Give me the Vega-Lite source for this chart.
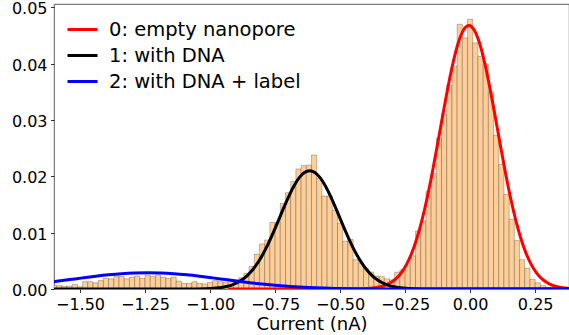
{
  "$schema": "https://vega.github.io/schema/vega-lite/v6.json",
  "width": 515,
  "height": 285,
  "autosize": {"type": "none"},
  "padding": {"left": 54, "top": 4, "right": 0, "bottom": 46},
  "config": {
    "font": "DejaVu Sans",
    "view": {"stroke": "#333", "strokeWidth": 0.8},
    "axis": {"labelFont": "DejaVu Sans", "labelFontSize": 16, "labelColor": "#000", "titleFont": "DejaVu Sans", "titleFontSize": 18, "titleFontWeight": "normal", "titleColor": "#000", "tickColor": "#000", "tickSize": 3.5, "tickWidth": 0.8, "domain": false, "grid": false, "labelPadding": 3.5}
  },
  "datasets": {
    "hist": [
      {"bin_start": -1.61, "bin_end": -1.59, "density": 0.0006},
      {"bin_start": -1.59, "bin_end": -1.57, "density": 0.0006},
      {"bin_start": -1.57, "bin_end": -1.55, "density": 0.0005},
      {"bin_start": -1.55, "bin_end": -1.53, "density": 0.0005},
      {"bin_start": -1.53, "bin_end": -1.51, "density": 0.0008},
      {"bin_start": -1.51, "bin_end": -1.49, "density": 0.0004},
      {"bin_start": -1.49, "bin_end": -1.47, "density": 0.0013},
      {"bin_start": -1.47, "bin_end": -1.45, "density": 0.0013},
      {"bin_start": -1.45, "bin_end": -1.43, "density": 0.0011},
      {"bin_start": -1.43, "bin_end": -1.41, "density": 0.0015},
      {"bin_start": -1.41, "bin_end": -1.39, "density": 0.0019},
      {"bin_start": -1.39, "bin_end": -1.37, "density": 0.0018},
      {"bin_start": -1.37, "bin_end": -1.35, "density": 0.0022},
      {"bin_start": -1.35, "bin_end": -1.33, "density": 0.0022},
      {"bin_start": -1.33, "bin_end": -1.31, "density": 0.0018},
      {"bin_start": -1.31, "bin_end": -1.29, "density": 0.0021},
      {"bin_start": -1.29, "bin_end": -1.27, "density": 0.0023},
      {"bin_start": -1.27, "bin_end": -1.25, "density": 0.0019},
      {"bin_start": -1.25, "bin_end": -1.23, "density": 0.0025},
      {"bin_start": -1.23, "bin_end": -1.21, "density": 0.0022},
      {"bin_start": -1.21, "bin_end": -1.19, "density": 0.0025},
      {"bin_start": -1.19, "bin_end": -1.17, "density": 0.0021},
      {"bin_start": -1.17, "bin_end": -1.15, "density": 0.0019},
      {"bin_start": -1.15, "bin_end": -1.13, "density": 0.0021},
      {"bin_start": -1.13, "bin_end": -1.11, "density": 0.0014},
      {"bin_start": -1.11, "bin_end": -1.09, "density": 0.001},
      {"bin_start": -1.09, "bin_end": -1.07, "density": 0.001},
      {"bin_start": -1.07, "bin_end": -1.05, "density": 0.0013},
      {"bin_start": -1.05, "bin_end": -1.03, "density": 0.001},
      {"bin_start": -1.03, "bin_end": -1.01, "density": 0.0009},
      {"bin_start": -1.01, "bin_end": -0.99, "density": 0.0012},
      {"bin_start": -0.99, "bin_end": -0.97, "density": 0.0015},
      {"bin_start": -0.97, "bin_end": -0.95, "density": 0.0013},
      {"bin_start": -0.95, "bin_end": -0.93, "density": 0.0012},
      {"bin_start": -0.93, "bin_end": -0.91, "density": 0.0013},
      {"bin_start": -0.91, "bin_end": -0.89, "density": 0.0015},
      {"bin_start": -0.89, "bin_end": -0.87, "density": 0.002},
      {"bin_start": -0.87, "bin_end": -0.85, "density": 0.0028},
      {"bin_start": -0.85, "bin_end": -0.83, "density": 0.004},
      {"bin_start": -0.83, "bin_end": -0.81, "density": 0.0062},
      {"bin_start": -0.81, "bin_end": -0.79, "density": 0.008},
      {"bin_start": -0.79, "bin_end": -0.77, "density": 0.0087},
      {"bin_start": -0.77, "bin_end": -0.75, "density": 0.0118},
      {"bin_start": -0.75, "bin_end": -0.73, "density": 0.0118},
      {"bin_start": -0.73, "bin_end": -0.71, "density": 0.0152},
      {"bin_start": -0.71, "bin_end": -0.69, "density": 0.0171},
      {"bin_start": -0.69, "bin_end": -0.67, "density": 0.0191},
      {"bin_start": -0.67, "bin_end": -0.65, "density": 0.0213},
      {"bin_start": -0.65, "bin_end": -0.63, "density": 0.0219},
      {"bin_start": -0.63, "bin_end": -0.61, "density": 0.022},
      {"bin_start": -0.61, "bin_end": -0.59, "density": 0.0238},
      {"bin_start": -0.59, "bin_end": -0.57, "density": 0.0197},
      {"bin_start": -0.57, "bin_end": -0.55, "density": 0.0165},
      {"bin_start": -0.55, "bin_end": -0.53, "density": 0.0165},
      {"bin_start": -0.53, "bin_end": -0.51, "density": 0.014},
      {"bin_start": -0.51, "bin_end": -0.49, "density": 0.0117},
      {"bin_start": -0.49, "bin_end": -0.47, "density": 0.0085},
      {"bin_start": -0.47, "bin_end": -0.45, "density": 0.0088},
      {"bin_start": -0.45, "bin_end": -0.43, "density": 0.0052},
      {"bin_start": -0.43, "bin_end": -0.41, "density": 0.0046},
      {"bin_start": -0.41, "bin_end": -0.39, "density": 0.0036},
      {"bin_start": -0.39, "bin_end": -0.37, "density": 0.003},
      {"bin_start": -0.37, "bin_end": -0.35, "density": 0.0023},
      {"bin_start": -0.35, "bin_end": -0.33, "density": 0.0022},
      {"bin_start": -0.33, "bin_end": -0.31, "density": 0.0018},
      {"bin_start": -0.31, "bin_end": -0.29, "density": 0.0016},
      {"bin_start": -0.29, "bin_end": -0.27, "density": 0.003},
      {"bin_start": -0.27, "bin_end": -0.25, "density": 0.0034},
      {"bin_start": -0.25, "bin_end": -0.23, "density": 0.0043},
      {"bin_start": -0.23, "bin_end": -0.21, "density": 0.0059},
      {"bin_start": -0.21, "bin_end": -0.19, "density": 0.0103},
      {"bin_start": -0.19, "bin_end": -0.17, "density": 0.0121},
      {"bin_start": -0.17, "bin_end": -0.15, "density": 0.0173},
      {"bin_start": -0.15, "bin_end": -0.13, "density": 0.0205},
      {"bin_start": -0.13, "bin_end": -0.11, "density": 0.0268},
      {"bin_start": -0.11, "bin_end": -0.09, "density": 0.031},
      {"bin_start": -0.09, "bin_end": -0.07, "density": 0.0362},
      {"bin_start": -0.07, "bin_end": -0.05, "density": 0.0396},
      {"bin_start": -0.05, "bin_end": -0.03, "density": 0.047},
      {"bin_start": -0.03, "bin_end": -0.01, "density": 0.0446},
      {"bin_start": -0.01, "bin_end": 0.01, "density": 0.0479},
      {"bin_start": 0.01, "bin_end": 0.03, "density": 0.0437},
      {"bin_start": 0.03, "bin_end": 0.05, "density": 0.0413},
      {"bin_start": 0.05, "bin_end": 0.07, "density": 0.04},
      {"bin_start": 0.07, "bin_end": 0.09, "density": 0.035},
      {"bin_start": 0.09, "bin_end": 0.11, "density": 0.0273},
      {"bin_start": 0.11, "bin_end": 0.13, "density": 0.0221},
      {"bin_start": 0.13, "bin_end": 0.15, "density": 0.0168},
      {"bin_start": 0.15, "bin_end": 0.17, "density": 0.0124},
      {"bin_start": 0.17, "bin_end": 0.19, "density": 0.0086},
      {"bin_start": 0.19, "bin_end": 0.21, "density": 0.0052},
      {"bin_start": 0.21, "bin_end": 0.23, "density": 0.0037},
      {"bin_start": 0.23, "bin_end": 0.25, "density": 0.0017},
      {"bin_start": 0.25, "bin_end": 0.27, "density": 0.0011},
      {"bin_start": 0.27, "bin_end": 0.29, "density": 0.0006},
      {"bin_start": 0.29, "bin_end": 0.31, "density": 0.0003},
      {"bin_start": 0.31, "bin_end": 0.33, "density": 0.0002},
      {"bin_start": 0.33, "bin_end": 0.35, "density": 0.0001},
      {"bin_start": 0.35, "bin_end": 0.37, "density": 0.0001}
    ],
    "curves": [
      {"series": "0: empty nanopore", "current": -0.93, "density": 0},
      {"series": "0: empty nanopore", "current": -0.505, "density": 0},
      {"series": "0: empty nanopore", "current": -0.445, "density": 0.000016},
      {"series": "0: empty nanopore", "current": -0.405, "density": 0.00006},
      {"series": "0: empty nanopore", "current": -0.385, "density": 0.00012},
      {"series": "0: empty nanopore", "current": -0.365, "density": 0.00022},
      {"series": "0: empty nanopore", "current": -0.345, "density": 0.00039},
      {"series": "0: empty nanopore", "current": -0.325, "density": 0.00068},
      {"series": "0: empty nanopore", "current": -0.305, "density": 0.00114},
      {"series": "0: empty nanopore", "current": -0.285, "density": 0.00183},
      {"series": "0: empty nanopore", "current": -0.265, "density": 0.00287},
      {"series": "0: empty nanopore", "current": -0.245, "density": 0.00433},
      {"series": "0: empty nanopore", "current": -0.225, "density": 0.00633},
      {"series": "0: empty nanopore", "current": -0.205, "density": 0.00896},
      {"series": "0: empty nanopore", "current": -0.185, "density": 0.01227},
      {"series": "0: empty nanopore", "current": -0.165, "density": 0.01625},
      {"series": "0: empty nanopore", "current": -0.145, "density": 0.02082},
      {"series": "0: empty nanopore", "current": -0.125, "density": 0.02581},
      {"series": "0: empty nanopore", "current": -0.105, "density": 0.03096},
      {"series": "0: empty nanopore", "current": -0.085, "density": 0.03592},
      {"series": "0: empty nanopore", "current": -0.065, "density": 0.04033},
      {"series": "0: empty nanopore", "current": -0.045, "density": 0.0438},
      {"series": "0: empty nanopore", "current": -0.025, "density": 0.04603},
      {"series": "0: empty nanopore", "current": -0.005, "density": 0.0468},
      {"series": "0: empty nanopore", "current": 0.015, "density": 0.04603},
      {"series": "0: empty nanopore", "current": 0.035, "density": 0.0438},
      {"series": "0: empty nanopore", "current": 0.055, "density": 0.04033},
      {"series": "0: empty nanopore", "current": 0.075, "density": 0.03592},
      {"series": "0: empty nanopore", "current": 0.095, "density": 0.03096},
      {"series": "0: empty nanopore", "current": 0.115, "density": 0.02581},
      {"series": "0: empty nanopore", "current": 0.135, "density": 0.02082},
      {"series": "0: empty nanopore", "current": 0.155, "density": 0.01625},
      {"series": "0: empty nanopore", "current": 0.175, "density": 0.01227},
      {"series": "0: empty nanopore", "current": 0.195, "density": 0.00896},
      {"series": "0: empty nanopore", "current": 0.215, "density": 0.00633},
      {"series": "0: empty nanopore", "current": 0.235, "density": 0.00433},
      {"series": "0: empty nanopore", "current": 0.255, "density": 0.00287},
      {"series": "0: empty nanopore", "current": 0.275, "density": 0.00183},
      {"series": "0: empty nanopore", "current": 0.295, "density": 0.00114},
      {"series": "0: empty nanopore", "current": 0.315, "density": 0.00068},
      {"series": "0: empty nanopore", "current": 0.335, "density": 0.00039},
      {"series": "0: empty nanopore", "current": 0.355, "density": 0.00022},
      {"series": "0: empty nanopore", "current": 0.375, "density": 0.00012},
      {"series": "0: empty nanopore", "current": 0.395, "density": 0.00006},
      {"series": "1: with DNA", "current": -1.6, "density": 0},
      {"series": "1: with DNA", "current": -1.097, "density": 0},
      {"series": "1: with DNA", "current": -1.057, "density": 0.000014},
      {"series": "1: with DNA", "current": -1.017, "density": 0.00005},
      {"series": "1: with DNA", "current": -0.997, "density": 0.00009},
      {"series": "1: with DNA", "current": -0.977, "density": 0.00016},
      {"series": "1: with DNA", "current": -0.957, "density": 0.00027},
      {"series": "1: with DNA", "current": -0.937, "density": 0.00044},
      {"series": "1: with DNA", "current": -0.917, "density": 0.0007},
      {"series": "1: with DNA", "current": -0.897, "density": 0.00108},
      {"series": "1: with DNA", "current": -0.877, "density": 0.00163},
      {"series": "1: with DNA", "current": -0.857, "density": 0.00238},
      {"series": "1: with DNA", "current": -0.837, "density": 0.00337},
      {"series": "1: with DNA", "current": -0.817, "density": 0.00463},
      {"series": "1: with DNA", "current": -0.797, "density": 0.00617},
      {"series": "1: with DNA", "current": -0.777, "density": 0.00798},
      {"series": "1: with DNA", "current": -0.757, "density": 0.01001},
      {"series": "1: with DNA", "current": -0.737, "density": 0.01218},
      {"series": "1: with DNA", "current": -0.717, "density": 0.01439},
      {"series": "1: with DNA", "current": -0.697, "density": 0.01649},
      {"series": "1: with DNA", "current": -0.677, "density": 0.01833},
      {"series": "1: with DNA", "current": -0.657, "density": 0.01977},
      {"series": "1: with DNA", "current": -0.637, "density": 0.02068},
      {"series": "1: with DNA", "current": -0.617, "density": 0.021},
      {"series": "1: with DNA", "current": -0.597, "density": 0.02068},
      {"series": "1: with DNA", "current": -0.577, "density": 0.01977},
      {"series": "1: with DNA", "current": -0.557, "density": 0.01833},
      {"series": "1: with DNA", "current": -0.537, "density": 0.01649},
      {"series": "1: with DNA", "current": -0.517, "density": 0.01439},
      {"series": "1: with DNA", "current": -0.497, "density": 0.01218},
      {"series": "1: with DNA", "current": -0.477, "density": 0.01001},
      {"series": "1: with DNA", "current": -0.457, "density": 0.00798},
      {"series": "1: with DNA", "current": -0.437, "density": 0.00617},
      {"series": "1: with DNA", "current": -0.417, "density": 0.00463},
      {"series": "1: with DNA", "current": -0.397, "density": 0.00337},
      {"series": "1: with DNA", "current": -0.377, "density": 0.00238},
      {"series": "1: with DNA", "current": -0.357, "density": 0.00163},
      {"series": "1: with DNA", "current": -0.337, "density": 0.00108},
      {"series": "1: with DNA", "current": -0.317, "density": 0.0007},
      {"series": "1: with DNA", "current": -0.297, "density": 0.00044},
      {"series": "1: with DNA", "current": -0.277, "density": 0.00027},
      {"series": "1: with DNA", "current": -0.257, "density": 0.00016},
      {"series": "1: with DNA", "current": -0.237, "density": 0.00009},
      {"series": "1: with DNA", "current": -0.217, "density": 0.00005},
      {"series": "1: with DNA", "current": -0.177, "density": 0.000014},
      {"series": "1: with DNA", "current": -0.137, "density": 0},
      {"series": "1: with DNA", "current": 0.38, "density": 0},
      {"series": "2: with DNA + label", "current": -1.6, "density": 0.001306},
      {"series": "2: with DNA + label", "current": -1.59, "density": 0.001364},
      {"series": "2: with DNA + label", "current": -1.54, "density": 0.001667},
      {"series": "2: with DNA + label", "current": -1.49, "density": 0.001974},
      {"series": "2: with DNA + label", "current": -1.44, "density": 0.002267},
      {"series": "2: with DNA + label", "current": -1.39, "density": 0.002525},
      {"series": "2: with DNA + label", "current": -1.34, "density": 0.002727},
      {"series": "2: with DNA + label", "current": -1.29, "density": 0.002856},
      {"series": "2: with DNA + label", "current": -1.24, "density": 0.0029},
      {"series": "2: with DNA + label", "current": -1.19, "density": 0.002856},
      {"series": "2: with DNA + label", "current": -1.14, "density": 0.002727},
      {"series": "2: with DNA + label", "current": -1.09, "density": 0.002525},
      {"series": "2: with DNA + label", "current": -1.04, "density": 0.002267},
      {"series": "2: with DNA + label", "current": -0.99, "density": 0.001974},
      {"series": "2: with DNA + label", "current": -0.94, "density": 0.001667},
      {"series": "2: with DNA + label", "current": -0.89, "density": 0.001364},
      {"series": "2: with DNA + label", "current": -0.84, "density": 0.001083},
      {"series": "2: with DNA + label", "current": -0.79, "density": 0.000834},
      {"series": "2: with DNA + label", "current": -0.74, "density": 0.000622},
      {"series": "2: with DNA + label", "current": -0.69, "density": 0.00045},
      {"series": "2: with DNA + label", "current": -0.64, "density": 0.000316},
      {"series": "2: with DNA + label", "current": -0.54, "density": 0.000142},
      {"series": "2: with DNA + label", "current": -0.44, "density": 0.000056},
      {"series": "2: with DNA + label", "current": -0.34, "density": 0.00002},
      {"series": "2: with DNA + label", "current": -0.24, "density": 0.000006},
      {"series": "2: with DNA + label", "current": -0.04, "density": 0},
      {"series": "2: with DNA + label", "current": 0.38, "density": 0}
    ]
  },
  "layer": [
    {
      "data": {"name": "hist"},
      "mark": {"type": "rect", "fill": "#FECE99", "stroke": "#000", "strokeOpacity": 0.3, "strokeWidth": 0.8, "clip": true},
      "encoding": {
        "x": {"field": "bin_start", "type": "quantitative",
              "scale": {"domain": [-1.6, 0.38], "nice": false, "zero": false},
              "axis": {"title": "Current (nA)", "values": [-1.5, -1.25, -1.0, -0.75, -0.5, -0.25, 0, 0.25], "format": ".2f", "titlePadding": 3}},
        "x2": {"field": "bin_end"},
        "y": {"field": "density", "type": "quantitative",
              "scale": {"domain": [0, 0.0506], "nice": false},
              "axis": {"title": null, "values": [0, 0.01, 0.02, 0.03, 0.04, 0.05], "format": ".2f", "labelOffset": 1.5}},
        "y2": {"datum": 0}
      }
    },
    {
      "data": {"name": "curves"},
      "mark": {"type": "line", "strokeWidth": 3, "clip": true, "interpolate": "monotone"},
      "encoding": {
        "x": {"field": "current", "type": "quantitative"},
        "y": {"field": "density", "type": "quantitative"},
        "color": {"field": "series", "type": "nominal",
                  "scale": {"domain": ["0: empty nanopore", "1: with DNA", "2: with DNA + label"], "range": ["#ff0000", "#000000", "#0000ff"]},
                  "legend": {"title": null, "orient": "none", "legendX": 12, "legendY": 9, "symbolType": "stroke", "symbolStrokeWidth": 3, "symbolSize": 900, "labelFontSize": 19.5, "labelLimit": 0, "labelFont": "DejaVu Sans", "labelColor": "#000", "labelOffset": 10, "rowPadding": -6.5}}
      }
    }
  ]
}
